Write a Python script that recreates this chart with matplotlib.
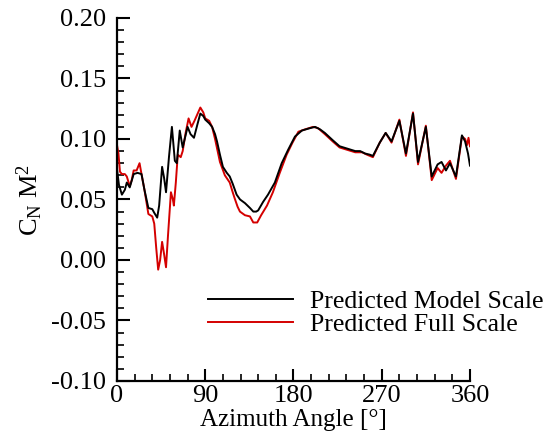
import numpy as np
import matplotlib.pyplot as plt

plt.rcParams['font.family'] = ['Liberation Serif', 'DejaVu Serif']
plt.rcParams['mathtext.fontset'] = 'custom'
plt.rcParams['mathtext.rm'] = 'Liberation Serif'
plt.rcParams['mathtext.it'] = 'Liberation Serif:italic'

# predicted model scale
model_azimuth = [0, 2, 5, 8, 10, 13, 17, 21, 25, 28, 32, 36, 38, 41, 43, 46, 48, 50, 53, 56,
                 59, 61, 64, 67, 72, 75, 78.5, 82, 85, 88, 90, 94, 97, 100, 102, 105, 108,
                 112, 115, 118, 122, 125.5, 130.5, 135.6, 139, 142, 144, 149, 154, 161, 168,
                 174.5, 181.5, 188.6, 197, 202, 207, 212, 220, 227, 235, 243, 248, 253, 258,
                 261, 268, 274, 280, 288, 294.7, 301.9, 307, 315, 321, 327, 331, 335.5, 339.6,
                 345.7, 351.8, 355, 358, 360]
model_cn = [0.075, 0.062, 0.054, 0.058, 0.064, 0.060, 0.071, 0.072, 0.071, 0.058, 0.043,
            0.042, 0.039, 0.035, 0.045, 0.077, 0.068, 0.056, 0.085, 0.110, 0.082, 0.080,
            0.107, 0.093, 0.110, 0.104, 0.101, 0.112, 0.121, 0.119, 0.116, 0.113, 0.110,
            0.104, 0.098, 0.087, 0.077, 0.072, 0.069, 0.063, 0.054, 0.050, 0.047, 0.043,
            0.040, 0.040, 0.041, 0.048, 0.054, 0.064, 0.080, 0.091, 0.102, 0.107, 0.109,
            0.110, 0.108, 0.105, 0.099, 0.094, 0.092, 0.090, 0.090, 0.088, 0.087, 0.086,
            0.097, 0.105, 0.098, 0.115, 0.088, 0.121, 0.081, 0.110, 0.069, 0.079, 0.081,
            0.074, 0.080, 0.069, 0.103, 0.098, 0.088, 0.078]

# predicted full scale
full_azimuth = [0, 1.5, 3, 5, 8, 10, 13, 15, 17, 20, 23, 25, 28, 32, 36, 38, 40, 42, 44, 46,
                48, 50, 52, 55, 57, 58, 60, 62, 65, 67, 70, 73, 76, 79, 85, 88, 90, 94, 97,
                100, 105, 110, 115, 118, 120, 123, 125.4, 130.5, 135.6, 139, 143, 147, 153,
                159, 166, 173, 179, 185, 192, 200, 205, 212, 220, 227, 235, 243, 250, 255,
                261, 268, 274, 280, 288, 294.7, 301.9, 307, 315, 321, 327, 331, 335.5, 339.6,
                345.7, 351.8, 355, 357, 358.5, 360]
full_cn = [0.095, 0.088, 0.073, 0.071, 0.071, 0.069, 0.061, 0.066, 0.074, 0.074, 0.080,
           0.071, 0.058, 0.038, 0.036, 0.030, 0.010, -0.008, 0.000, 0.015, 0.005, -0.006,
           0.020, 0.056, 0.050, 0.045, 0.064, 0.087, 0.085, 0.090, 0.105, 0.117, 0.110,
           0.115, 0.126, 0.122, 0.117, 0.115, 0.110, 0.100, 0.081, 0.070, 0.064, 0.056,
           0.051, 0.044, 0.040, 0.037, 0.036, 0.031, 0.031, 0.037, 0.045, 0.056, 0.072,
           0.087, 0.097, 0.106, 0.108, 0.110, 0.109, 0.104, 0.098, 0.093, 0.091, 0.089,
           0.089, 0.087, 0.085, 0.097, 0.105, 0.097, 0.116, 0.086, 0.122, 0.079, 0.111,
           0.066, 0.076, 0.072, 0.078, 0.082, 0.067, 0.102, 0.100, 0.095, 0.101, 0.094]

x_ticks = [0, 90, 180, 270, 360]
y_ticks = [-0.10, -0.05, 0.00, 0.05, 0.10, 0.15, 0.20]

fig = plt.figure(figsize=(5.55, 4.44), dpi=100)
ax = fig.add_axes([0.2108, 0.1419, 0.636, 0.8176])

ax.plot(model_azimuth, model_cn, color='black', lw=1.4, label='Predicted Model Scale', zorder=3)
ax.plot(full_azimuth, full_cn, color='#d40000', lw=1.4, label='Predicted Full Scale', zorder=2)

ax.set_xlim(0, 360)
ax.set_ylim(-0.10, 0.20)
ax.set_xticks(x_ticks)
ax.set_yticks(y_ticks)
ax.set_xticklabels([str(t) for t in x_ticks])
ax.set_yticklabels(['%.2f' % t for t in y_ticks])
ax.set_xticks(np.arange(0, 361, 18), minor=True)
ax.set_yticks(np.arange(-0.10, 0.2001, 0.01), minor=True)

for s in ['top', 'right']:
    ax.spines[s].set_visible(False)
for s in ['left', 'bottom']:
    ax.spines[s].set_linewidth(1.6)

ax.tick_params(which='major', direction='in', length=9, width=1.5, labelsize=19)
ax.tick_params(axis='y', which='major', pad=8)
ax.tick_params(axis='x', which='major', pad=3)
ax.tick_params(which='minor', direction='in', length=5, width=1.2)

ax.set_xlabel('Azimuth Angle [°]', fontsize=18, labelpad=1)
ax.set_ylabel(r'C$_{\mathrm{N}}$ M$^{\mathrm{2}}$', fontsize=19, labelpad=4)

ax.legend(loc='upper left', bbox_to_anchor=(0.375, 0.347), bbox_transform=fig.transFigure,
          frameon=False, fontsize=18.5, borderpad=0, borderaxespad=0,
          handlelength=3.3, handletextpad=0.65, labelspacing=0)

fig.savefig('out.png', dpi=100)
